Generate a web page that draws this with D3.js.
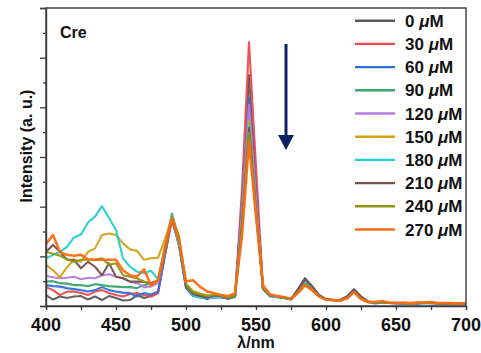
<!DOCTYPE html>
<html>
<head>
<meta charset="utf-8">
<script src="https://cdn.jsdelivr.net/npm/d3@7/dist/d3.min.js"></script>
<style>
  html, body { margin: 0; padding: 0; background: #fff; }
  svg text { font-family: "Liberation Sans", Arial, sans-serif; font-weight: bold; fill: #111; }
</style>
</head>
<body>
<svg id="chart" width="481" height="353"></svg>
<script>
// Emission wavelengths (nm), 5 nm steps
const wavelengths = d3.range(400, 701, 5);

const concentrations = ["0", "30", "60", "90", "120", "150", "180", "210", "240", "270"];
const seriesColors = ["#5a5a5a", "#f2484f", "#2f6fdc", "#3aa76d", "#b47ddf",
                      "#d3a114", "#1fcfcf", "#7a4f50", "#8c9812", "#ff6a12"];

// Intensity (a. u.) for each concentration, 400–700 nm
const s0 = [0.22,0.13,0.19,0.16,0.19,0.20,0.13,0.19,0.12,0.20,0.16,0.11,0.12,0.22,0.16,0.20,0.26,
  1.02,1.74,1.22,0.36,0.22,0.18,0.14,0.20,0.18,0.15,0.19,2.05,4.65,2.45,0.34,0.20,0.18,0.16,0.14,
  0.34,0.56,0.40,0.22,0.14,0.12,0.12,0.19,0.33,0.19,0.09,0.07,0.08,0.06,0.06,0.05,0.06,0.05,0.06,
  0.07,0.05,0.04,0.05,0.05,0.05];
const s30 = [0.38,0.32,0.22,0.29,0.29,0.26,0.22,0.29,0.32,0.26,0.22,0.19,0.24,0.26,0.22,0.19,0.26,
  1.05,1.76,1.25,0.40,0.25,0.20,0.17,0.21,0.19,0.16,0.20,2.35,5.31,2.80,0.36,0.21,0.18,0.17,0.14,
  0.30,0.47,0.35,0.21,0.13,0.11,0.12,0.17,0.30,0.16,0.08,0.08,0.07,0.06,0.05,0.06,0.05,0.06,0.06,
  0.05,0.05,0.06,0.05,0.04,0.05];
const s60 = [0.42,0.40,0.39,0.36,0.34,0.32,0.29,0.32,0.38,0.32,0.29,0.27,0.26,0.19,0.26,0.23,0.29,
  1.06,1.78,1.24,0.38,0.20,0.18,0.15,0.17,0.17,0.15,0.18,2.00,4.19,2.25,0.34,0.20,0.18,0.16,0.13,
  0.31,0.50,0.37,0.22,0.14,0.12,0.11,0.19,0.34,0.18,0.08,0.05,0.07,0.06,0.06,0.05,0.06,0.05,0.07,
  0.06,0.05,0.05,0.06,0.05,0.05];
const s90 = [0.49,0.50,0.46,0.45,0.42,0.42,0.40,0.44,0.42,0.40,0.39,0.38,0.38,0.36,0.42,0.46,0.49,
  1.12,1.86,1.32,0.42,0.26,0.22,0.19,0.21,0.20,0.16,0.19,1.85,3.95,2.10,0.35,0.21,0.19,0.17,0.14,
  0.29,0.46,0.35,0.21,0.13,0.12,0.11,0.16,0.30,0.16,0.08,0.07,0.08,0.06,0.05,0.06,0.05,0.06,0.06,
  0.07,0.05,0.05,0.06,0.05,0.06];
const s120 = [0.61,0.58,0.56,0.57,0.59,0.54,0.57,0.56,0.62,0.64,0.59,0.56,0.49,0.46,0.38,0.39,0.46,
  1.08,1.80,1.28,0.40,0.24,0.19,0.16,0.17,0.19,0.15,0.19,1.90,4.05,2.15,0.36,0.21,0.18,0.17,0.13,
  0.32,0.52,0.38,0.22,0.13,0.12,0.11,0.18,0.31,0.17,0.08,0.07,0.07,0.06,0.06,0.05,0.06,0.05,0.06,
  0.06,0.05,0.05,0.05,0.06,0.05];
const s150 = [0.83,0.72,0.58,0.78,0.93,0.89,1.09,1.16,1.43,1.46,1.43,1.26,1.14,1.11,0.93,0.96,0.97,
  1.35,1.80,1.38,0.45,0.30,0.25,0.21,0.22,0.21,0.17,0.21,1.70,3.74,2.00,0.37,0.22,0.19,0.17,0.14,
  0.27,0.42,0.32,0.20,0.13,0.12,0.11,0.16,0.28,0.15,0.08,0.07,0.08,0.06,0.06,0.06,0.05,0.06,0.06,
  0.07,0.05,0.06,0.05,0.05,0.06];
const s180 = [0.96,1.03,1.09,1.19,1.38,1.44,1.68,1.80,2.01,1.77,1.53,0.96,0.79,0.69,0.66,0.71,0.54,
  1.15,1.84,1.20,0.40,0.21,0.17,0.16,0.19,0.18,0.16,0.19,1.65,3.62,1.95,0.35,0.19,0.18,0.16,0.13,
  0.30,0.48,0.36,0.21,0.13,0.12,0.11,0.17,0.29,0.17,0.08,0.07,0.07,0.06,0.07,0.05,0.06,0.06,0.05,
  0.06,0.05,0.06,0.05,0.06,0.06];
const s210 = [1.09,1.23,1.09,0.93,0.93,0.76,0.89,0.79,0.62,0.86,0.59,0.56,0.49,0.49,0.49,0.46,0.52,
  1.10,1.78,1.30,0.40,0.24,0.20,0.17,0.21,0.20,0.15,0.20,1.62,3.58,1.92,0.35,0.21,0.19,0.17,0.14,
  0.33,0.54,0.40,0.22,0.14,0.12,0.12,0.18,0.32,0.19,0.09,0.07,0.08,0.06,0.06,0.05,0.06,0.05,0.06,
  0.07,0.05,0.05,0.06,0.05,0.05];
const s240 = [1.09,1.05,1.01,0.94,0.89,0.93,0.93,0.93,0.96,0.83,0.86,0.62,0.59,0.56,0.49,0.42,0.52,
  1.15,1.80,1.40,0.44,0.28,0.24,0.20,0.22,0.21,0.17,0.21,1.56,3.48,1.88,0.37,0.22,0.19,0.17,0.14,
  0.28,0.44,0.33,0.20,0.13,0.12,0.11,0.16,0.28,0.15,0.08,0.07,0.08,0.06,0.06,0.06,0.05,0.06,0.06,
  0.07,0.05,0.06,0.05,0.05,0.06];
const s270 = [1.25,1.43,1.09,1.03,1.01,1.03,0.94,0.93,0.93,0.93,0.93,0.72,0.62,0.59,0.74,0.42,0.52,
  1.20,1.77,1.32,0.50,0.52,0.39,0.29,0.26,0.22,0.20,0.26,1.41,3.30,1.80,0.42,0.23,0.20,0.18,0.14,
  0.26,0.42,0.32,0.19,0.13,0.12,0.11,0.15,0.28,0.14,0.08,0.08,0.10,0.07,0.06,0.07,0.06,0.07,0.07,
  0.08,0.06,0.06,0.06,0.05,0.06];

const seriesValues = [s0, s30, s60, s90, s120, s150, s180, s210, s240, s270];

const xTickValues = [400, 450, 500, 550, 600, 650, 700];

const svg = d3.select("#chart");
const plotLeft = 46, plotRight = 466, plotTop = 8, plotBottom = 306;

const x = d3.scaleLinear().domain([400, 700]).range([plotLeft, plotRight]);
const y = d3.scaleLinear().domain([0, 6]).range([plotBottom, plotTop]);

// spectra
const line = d3.line()
  .x((d, i) => x(wavelengths[i]))
  .y(d => y(d));

const g = svg.append("g");
seriesValues.forEach((vals, k) => {
  g.append("path")
    .datum(vals)
    .attr("d", line)
    .attr("fill", "none")
    .attr("stroke", seriesColors[k])
    .attr("stroke-width", k === 9 ? 2.5 : 2.1)
    .attr("stroke-linejoin", "round")
    .attr("stroke-opacity", 0.95);
});

// frame
svg.append("rect")
  .attr("x", plotLeft).attr("y", plotTop)
  .attr("width", plotRight - plotLeft).attr("height", plotBottom - plotTop)
  .attr("fill", "none").attr("stroke", "#3a3a3a").attr("stroke-width", 1.4);

// x axis
const xAxis = svg.append("g")
  .attr("transform", `translate(0,${plotBottom})`)
  .call(d3.axisBottom(x).tickValues(d3.range(400, 701, 25)).tickSize(4).tickFormat(""));
xAxis.select(".domain").attr("stroke", "#3a3a3a").attr("stroke-width", 1.4);
xAxis.selectAll(".tick line").attr("stroke", "#3a3a3a").attr("stroke-width", 1.3);

svg.append("g").selectAll("text")
  .data(xTickValues)
  .join("text")
  .attr("x", d => x(d))
  .attr("y", 331)
  .attr("text-anchor", "middle")
  .attr("font-size", 18)
  .text(d => d);

// y axis: unlabeled ticks, long at whole units, short at halves
const yAxis = svg.append("g")
  .attr("transform", `translate(${plotLeft},0)`)
  .call(d3.axisLeft(y).tickValues(d3.range(0, 6.01, 0.5)).tickSize(6).tickFormat(""));
yAxis.select(".domain").attr("stroke", "#3a3a3a").attr("stroke-width", 1.4);
yAxis.selectAll(".tick line")
  .attr("stroke", "#3a3a3a").attr("stroke-width", 1.3)
  .attr("x2", d => (Math.abs(d - Math.round(d)) < 1e-6 ? -6 : -3));

// axis titles
svg.append("text")
  .attr("transform", "translate(32,146) rotate(-90)")
  .attr("text-anchor", "middle")
  .attr("font-size", 16)
  .text("Intensity (a. u.)");

svg.append("text")
  .attr("x", 256).attr("y", 348)
  .attr("text-anchor", "middle")
  .attr("font-size", 16)
  .text("λ/nm");

svg.append("text")
  .attr("x", 60).attr("y", 38)
  .attr("font-size", 16)
  .text("Cre");

// downward arrow showing the decreasing peak
const arrowColor = "#0b2461";
svg.append("line")
  .attr("x1", 286).attr("y1", 44).attr("x2", 286).attr("y2", 137)
  .attr("stroke", arrowColor).attr("stroke-width", 3);
svg.append("path")
  .attr("d", "M278,135 L294,135 L286,150 Z")
  .attr("fill", arrowColor);

// legend
const legend = svg.append("g");
concentrations.forEach((c, k) => {
  const ly = 20.7 + k * 23.2;
  legend.append("line")
    .attr("x1", 355).attr("x2", 395).attr("y1", ly).attr("y2", ly)
    .attr("stroke", seriesColors[k]).attr("stroke-width", 2.4);
  const t = legend.append("text")
    .attr("x", 405).attr("y", ly + 6)
    .attr("font-size", 17);
  t.append("tspan").text(c + " ");
  t.append("tspan").attr("font-style", "italic").text("μ");
  t.append("tspan").text("M");
});
</script>
</body>
</html>
